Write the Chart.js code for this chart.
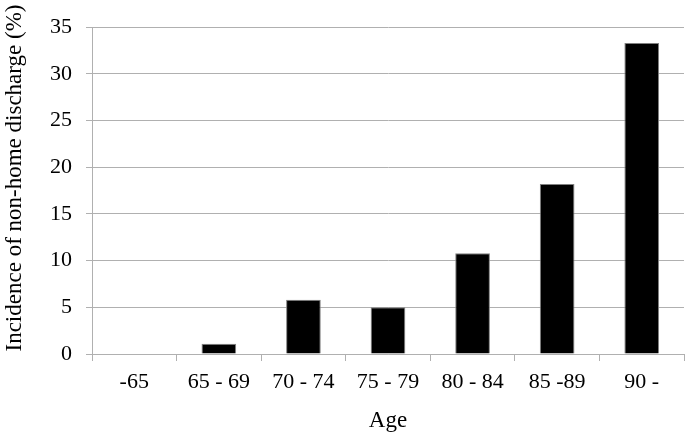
<!DOCTYPE html>
<html>
<head>
<meta charset="utf-8">
<script src="https://cdn.jsdelivr.net/npm/chart.js"></script>
<style>
  html, body { margin: 0; padding: 0; background: #ffffff; }
  #wrap { width: 685px; height: 435px; }
</style>
</head>
<body>
<div id="wrap"><canvas id="chart"></canvas></div>
<script>
// data
const ageGroups = ["-65", "65 - 69", "70 - 74", "75 - 79", "80 - 84", "85 -89", "90 -"];
const nonHomeIncidence = [0, 1.1, 5.8, 5.0, 10.8, 18.2, 33.3];
const yTicks = [0, 5, 10, 15, 20, 25, 30, 35];
const yTitle = "Incidence of non-home discharge (%)";

const serif = "'Liberation Serif', 'Times New Roman', serif";
const gridGray = "#b0b0b0";

// y title sits a bit above the axis centre in the original, so draw it by hand
const yTitlePlugin = {
    id: "yTitle",
    afterDraw(chart) {
        const ctx = chart.ctx;
        ctx.save();
        ctx.translate(15, 178);
        ctx.rotate(-Math.PI / 2);
        ctx.font = "23px " + serif;
        ctx.fillStyle = "#000000";
        ctx.textAlign = "center";
        ctx.textBaseline = "middle";
        ctx.fillText(yTitle, 0, 0);
        ctx.restore();
    }
};

new Chart(document.getElementById("chart"), {
    type: "bar",
    data: {
        labels: ageGroups,
        datasets: [{
            data: nonHomeIncidence,
            backgroundColor: "#000000",
            borderColor: "#808080",
            borderWidth: 1,
            categoryPercentage: 1.0,
            barPercentage: 0.41
        }]
    },
    options: {
        responsive: true,
        maintainAspectRatio: false,
        animation: false,
        layout: { padding: { top: 27, right: 1, bottom: 0, left: 0 } },
        plugins: {
            legend: { display: false },
            tooltip: { enabled: false }
        },
        scales: {
            x: {
                afterFit(axis) { axis.height = 81; },
                grid: {
                    display: true,
                    drawOnChartArea: false,
                    drawTicks: true,
                    tickLength: 7,
                    color: gridGray,
                    offset: true
                },
                border: { color: gridGray, width: 1 },
                ticks: {
                    color: "#000000",
                    font: { family: serif, size: 22 },
                    padding: 8,
                    maxRotation: 0,
                    autoSkip: false
                },
                title: {
                    display: true,
                    text: "Age",
                    color: "#000000",
                    font: { family: serif, size: 23 },
                    padding: { top: 0, bottom: 0 }
                }
            },
            y: {
                min: 0,
                max: 35,
                afterBuildTicks(axis) {
                    axis.ticks = yTicks.map(v => ({ value: v }));
                },
                afterFit(axis) { axis.width = 92; },
                grid: {
                    color: gridGray,
                    tickLength: 6,
                    lineWidth: 1
                },
                border: { color: gridGray, width: 1 },
                ticks: {
                    color: "#000000",
                    font: { family: serif, size: 22 },
                    padding: 14
                },
                title: { display: false }
            }
        }
    },
    plugins: [yTitlePlugin]
});
</script>
</body>
</html>
